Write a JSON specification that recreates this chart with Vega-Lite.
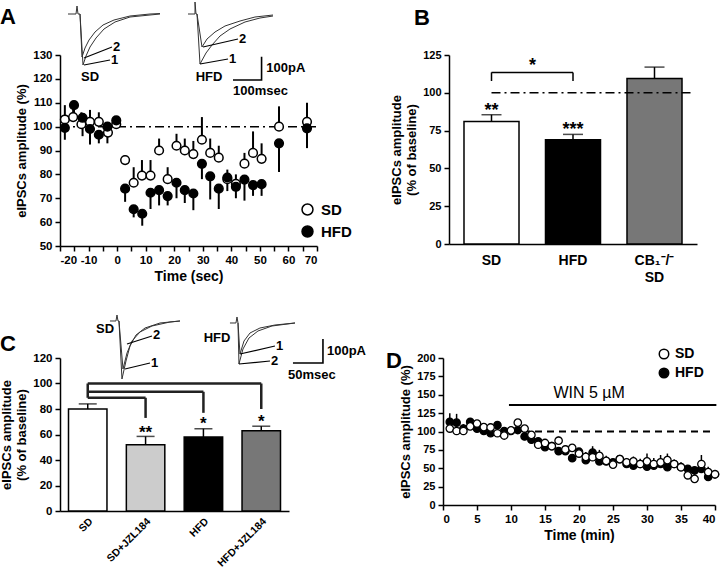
{
"$schema": "https://vega.github.io/schema/vega-lite/v6.json",
"padding": 0,
"config": {
 "font": "Liberation Sans",
 "view": {"stroke": null},
 "mark": {"color": "black"},
 "axis": {"labelFont": "Liberation Sans", "labelFontWeight": "bold", "labelFontSize": 11, "labelColor": "black", "titleFont": "Liberation Sans", "titleFontWeight": "bold", "titleFontSize": 13, "titleColor": "black", "domainColor": "black", "domainWidth": 1.5, "tickColor": "black", "tickWidth": 1.5, "tickSize": 5, "grid": false, "labelPadding": 3, "labelOverlap": false},
 "legend": {"labelFont": "Liberation Sans", "labelFontWeight": "bold", "labelColor": "black"},
 "title": {"font": "Liberation Sans", "fontSize": 22, "fontWeight": "bold", "anchor": "start", "frame": "group", "color": "black"},
 "text": {"font": "Liberation Sans", "fontWeight": "bold", "color": "black"}
},
"spacing": 29,
"align": "none",
"resolve": {"scale": {"fill": "independent"}, "legend": {"fill": "independent"}},
"vconcat": [
{
 "hconcat": [
 {
  "title": {"text": "A", "dx": -60, "offset": -29},
  "width": 257, "height": 191,
  "resolve": {"scale": {"x": "independent", "y": "independent"}},
  "layer": [
   {
    "data": {"values": [
     {"g":"SD","t":-18.3,"v":103,"end":109},{"g":"SD","t":-15.4,"v":104,"end":110},{"g":"SD","t":-12.5,"v":101,"end":106},{"g":"SD","t":-9.5,"v":102,"end":107},{"g":"SD","t":-6.4,"v":102,"end":106},{"g":"SD","t":-3.2,"v":97.5,"end":101},{"g":"SD","t":-0.3,"v":101,"end":104},{"g":"SD","t":2.8,"v":86,"end":88},{"g":"SD","t":5.8,"v":76.5,"end":83},{"g":"SD","t":8.7,"v":79.5,"end":86},{"g":"SD","t":11.7,"v":79.5,"end":86},{"g":"SD","t":14.7,"v":90,"end":95},{"g":"SD","t":17.7,"v":78,"end":83},{"g":"SD","t":20.8,"v":92,"end":97},{"g":"SD","t":23.7,"v":90,"end":95},{"g":"SD","t":26.7,"v":88.5,"end":94},{"g":"SD","t":29.7,"v":94.5,"end":104},{"g":"SD","t":32.6,"v":89,"end":95},{"g":"SD","t":35.6,"v":87,"end":92},{"g":"SD","t":38.6,"v":78,"end":82},{"g":"SD","t":41.6,"v":76,"end":80},{"g":"SD","t":44.6,"v":84.5,"end":89},{"g":"SD","t":47.6,"v":89,"end":98},{"g":"SD","t":50.6,"v":86.5,"end":93},{"g":"SD","t":56.7,"v":100,"end":108.5},{"g":"SD","t":66.5,"v":102,"end":110},
     {"g":"HFD","t":-18.3,"v":99.5,"end":94.5},{"g":"HFD","t":-15.1,"v":109,"end":104},{"g":"HFD","t":-12.1,"v":103.7,"end":96},{"g":"HFD","t":-9.5,"v":99,"end":92.5},{"g":"HFD","t":-6.4,"v":96.6,"end":93},{"g":"HFD","t":-3.4,"v":100,"end":93},{"g":"HFD","t":-0.3,"v":102.6,"end":100},{"g":"HFD","t":2.8,"v":74,"end":68.5},{"g":"HFD","t":5.8,"v":65.4,"end":62},{"g":"HFD","t":8.8,"v":63.5,"end":58.5},{"g":"HFD","t":11.7,"v":72.3,"end":65.5},{"g":"HFD","t":14.7,"v":73.4,"end":67},{"g":"HFD","t":17.7,"v":70.9,"end":67},{"g":"HFD","t":20.8,"v":76.5,"end":70},{"g":"HFD","t":23.7,"v":73.4,"end":68},{"g":"HFD","t":26.7,"v":72,"end":65},{"g":"HFD","t":29.7,"v":84.4,"end":78},{"g":"HFD","t":32.6,"v":79.2,"end":69.5},{"g":"HFD","t":35.6,"v":74,"end":65.5},{"g":"HFD","t":38.6,"v":78.7,"end":73},{"g":"HFD","t":41.6,"v":74.8,"end":70},{"g":"HFD","t":44.6,"v":77.8,"end":69},{"g":"HFD","t":47.6,"v":75.5,"end":71},{"g":"HFD","t":50.6,"v":75.9,"end":71},{"g":"HFD","t":56.7,"v":93,"end":81},{"g":"HFD","t":66.5,"v":99.3,"end":91}
    ]},
    "encoding": {
     "x": {"field": "t", "type": "quantitative", "scale": {"domain": [-20, 70], "nice": false, "zero": false}, "axis": {"values": [-20,-15,-10,-5,0,5,10,15,20,25,30,35,40,45,50,55,60,65,70], "labelExpr": "datum.value % 10 == 0 ? '' + datum.value : ''", "title": "Time (sec)", "titleFontSize": 14, "labelFontSize": 11.5}},
     "y": {"field": "v", "type": "quantitative", "scale": {"domain": [50, 130], "nice": false, "zero": false}, "axis": {"values": [50,60,70,80,90,100,110,120,130], "title": "eIPSCs amplitude (%)", "labelFontSize": 11.5}}
    },
    "layer": [
     {"data": {"values": [{"t": -20, "t2": 70, "v": 100}]}, "mark": {"type": "rule", "strokeWidth": 1.5, "strokeDash": [9, 4, 2, 4]}, "encoding": {"x2": {"field": "t2"}}},
     {"mark": {"type": "rule", "strokeWidth": 2}, "encoding": {"y2": {"field": "end"}}},
     {"mark": {"type": "point", "filled": true, "size": 75, "stroke": "black", "strokeWidth": 1.5, "opacity": 1},
      "encoding": {"fill": {"field": "g", "type": "nominal", "scale": {"domain": ["SD", "HFD"], "range": ["white", "black"]},
        "legend": {"title": null, "orient": "none", "legendX": 240, "legendY": 147, "labelFontSize": 15, "symbolSize": 120, "symbolStrokeColor": "black", "symbolStrokeWidth": 1.5, "symbolType": "circle", "rowPadding": 5, "labelOffset": 6}}}}
    ]
   },
   {
    "encoding": {
     "x": {"field": "t", "type": "quantitative", "scale": {"domain": [0, 899.5], "nice": false, "zero": false}, "axis": null},
     "y": {"field": "i", "type": "quantitative", "scale": {"domain": [-997.6, -176.3], "nice": false, "zero": false}, "axis": null}
    },
    "layer": [
     {"data": {"values": [
      {"id":"SD1","t":28,"i":0},{"id":"SD1","t":56,"i":0},{"id":"SD1","t":59.5,"i":34.4},{"id":"SD1","t":63,"i":0},{"id":"SD1","t":70,"i":0},{"id":"SD1","t":80.5,"i":-219.3},{"id":"SD1","t":91,"i":-180.6},{"id":"SD1","t":105,"i":-141.9},{"id":"SD1","t":126,"i":-103.2},{"id":"SD1","t":154,"i":-64.5},{"id":"SD1","t":192.5,"i":-34.4},{"id":"SD1","t":245,"i":-12.9},{"id":"SD1","t":315,"i":-4.3},{"id":"SD1","t":350,"i":0},
      {"id":"SD2","t":70,"i":0},{"id":"SD2","t":77,"i":-184.9},{"id":"SD2","t":87.5,"i":-146.2},{"id":"SD2","t":101.5,"i":-111.8},{"id":"SD2","t":122.5,"i":-77.4},{"id":"SD2","t":150.5,"i":-47.3},{"id":"SD2","t":189,"i":-25.8},{"id":"SD2","t":245,"i":-8.6},{"id":"SD2","t":315,"i":0},{"id":"SD2","t":350,"i":2},
      {"id":"HFD1","t":448,"i":0},{"id":"HFD1","t":472.5,"i":0},{"id":"HFD1","t":472.5,"i":51.6},{"id":"HFD1","t":476,"i":0},{"id":"HFD1","t":479.5,"i":0},{"id":"HFD1","t":490,"i":-215},{"id":"HFD1","t":511,"i":-167.7},{"id":"HFD1","t":532,"i":-133.3},{"id":"HFD1","t":560,"i":-94.6},{"id":"HFD1","t":595,"i":-64.5},{"id":"HFD1","t":647.5,"i":-34.4},{"id":"HFD1","t":700,"i":-17.2},{"id":"HFD1","t":745.5,"i":-8.6},
      {"id":"HFD2","t":479.5,"i":0},{"id":"HFD2","t":497,"i":-141.9},{"id":"HFD2","t":514.5,"i":-107.5},{"id":"HFD2","t":542.5,"i":-77.4},{"id":"HFD2","t":577.5,"i":-51.6},{"id":"HFD2","t":630,"i":-30.1},{"id":"HFD2","t":682.5,"i":-12.9},{"id":"HFD2","t":745.5,"i":-4.3}
     ]}, "mark": {"type": "line", "strokeWidth": 1, "color": "#333333", "clip": false}, "encoding": {"detail": {"field": "id"}, "order": {"value": null}}},
     {"data": {"values": [
      {"id":"L1","t":84,"i":-189.2},{"id":"L1","t":182,"i":-141.9},
      {"id":"L2","t":84,"i":-219.3},{"id":"L2","t":175,"i":-197.8},
      {"id":"L3","t":500.5,"i":-141.9},{"id":"L3","t":623,"i":-107.5},
      {"id":"L4","t":490,"i":-215},{"id":"L4","t":588,"i":-193.5}
     ]}, "mark": {"type": "line", "strokeWidth": 1.2, "color": "black", "clip": false}, "encoding": {"detail": {"field": "id"}, "order": {"value": null}}},
     {"data": {"values": [
      {"id":"S","t":605.5,"i":-283.8},{"id":"S","t":705.5,"i":-283.8},{"id":"S","t":705.5,"i":-183.8}
     ]}, "mark": {"type": "line", "strokeWidth": 1.6, "color": "black", "clip": false}, "encoding": {"detail": {"field": "id"}, "order": {"value": null}}},
     {"data": {"values": [
      {"s":"2","t":185.5,"i":-141.9},{"s":"1","t":178.5,"i":-197.8},{"s":"2","t":626.5,"i":-107.5},{"s":"1","t":591.5,"i":-193.5},{"s":"100pA","t":722,"i":-232.2},{"s":"100msec","t":605.5,"i":-331.1}
     ]}, "mark": {"type": "text", "align": "left", "baseline": "middle", "fontSize": 13}, "encoding": {"text": {"field": "s"}}},
     {"data": {"values": [
      {"s":"SD","t":105,"i":-270.9},{"s":"HFD","t":521.5,"i":-270.9}
     ]}, "mark": {"type": "text", "align": "center", "baseline": "middle", "fontSize": 13}, "encoding": {"text": {"field": "s"}}}
    ]
   }
  ]
 },
 {
  "title": {"text": "B", "dx": -35, "offset": 19},
  "width": 260, "height": 189,
  "data": {"values": [
   {"c":"SD","v":81,"hi":85.5},
   {"c":"HFD","v":69,"hi":72.5},
   {"c":"CB1","v":109.5,"hi":117}
  ]},
  "encoding": {
   "x": {"field": "c", "type": "nominal", "sort": null, "scale": {"domain": ["SD", "HFD", "CB1"], "paddingInner": 0.325, "paddingOuter": 0.184, "range": [0, 248]},
     "axis": {"title": null, "labelAngle": 0, "ticks": false, "labelFontSize": 14, "labelPadding": 9, "labelLineHeight": 17, "labelExpr": "datum.value == 'CB1' ? ['CB₁⁻/⁻', 'SD'] : datum.value"}},
   "y": {"field": "v", "type": "quantitative", "scale": {"domain": [0, 125], "nice": false}, "axis": {"values": [0,25,50,75,100,125], "title": ["eIPSCs amplitude", "(% of baseline)"]}}
  },
  "layer": [
   {"mark": {"type": "bar", "stroke": "black", "strokeWidth": 1.5},
    "encoding": {"fill": {"field": "c", "type": "nominal", "scale": {"domain": ["SD", "HFD", "CB1"], "range": ["white", "black", "#777777"]}, "legend": null}}},
   {"mark": {"type": "rule", "strokeWidth": 1.5}, "encoding": {"y2": {"field": "hi"}}},
   {"data": {"values": [{"c":"SD","v":85.5},{"c":"HFD","v":72.5},{"c":"CB1","v":117}]}, "mark": {"type": "tick", "thickness": 1.5, "size": 20, "orient": "horizontal"}},
   {"data": {"values": [{"c":"SD","v":88,"s":"**"},{"c":"HFD","v":75.5,"s":"***"}]}, "mark": {"type": "text", "fontSize": 18, "baseline": "middle"}, "encoding": {"text": {"field": "s"}}},
   {"data": {"values": [{"c": "SD", "c2": "CB1", "v": 100}]}, "mark": {"type": "rule", "strokeWidth": 1.5, "strokeDash": [9, 4, 2, 4], "x2Offset": 37}, "encoding": {"x2": {"field": "c2"}}},
   {"data": {"values": [{"c": "SD", "c2": "HFD", "v": 113.5}]}, "mark": {"type": "rule", "strokeWidth": 1.5}, "encoding": {"x2": {"field": "c2"}}},
   {"data": {"values": [{"c": "SD", "v": 113.5, "v2": 107.8}, {"c": "HFD", "v": 113.5, "v2": 107.8}]}, "mark": {"type": "rule", "strokeWidth": 1.5}, "encoding": {"y2": {"field": "v2"}}},
   {"data": {"values": [{"c": "SD", "v": 117.5, "s": "*"}]}, "mark": {"type": "text", "fontSize": 18, "dx": 41, "baseline": "middle"}, "encoding": {"text": {"field": "s"}}}
  ]
 }
 ],
 "spacing": 38,
 "align": "none",
 "resolve": {"scale": {"fill": "independent"}, "legend": {"fill": "independent"}}
},
{
 "hconcat": [
 {
  "title": {"text": "C", "dx": -60, "offset": -43},
  "width": 229, "height": 153,
  "resolve": {"scale": {"x": "independent", "y": "independent"}},
  "layer": [
   {
    "data": {"values": [
     {"c":"SD","v":80,"hi":84},
     {"c":"SD+JZL184","v":52,"hi":58.5},
     {"c":"HFD","v":58,"hi":64.5},
     {"c":"HFD+JZL184","v":63,"hi":66.5}
    ]},
    "encoding": {
     "x": {"field": "c", "type": "nominal", "sort": null, "scale": {"domain": ["SD", "SD+JZL184", "HFD", "HFD+JZL184"], "paddingInner": 0.335, "paddingOuter": 0.147},
      "axis": {"title": null, "labelAngle": -45, "ticks": false, "labelFontSize": 10.5, "labelPadding": 5}},
     "y": {"field": "v", "type": "quantitative", "scale": {"domain": [0, 120], "nice": false}, "axis": {"values": [0,20,40,60,80,100,120], "title": ["eIPSCs amplitude", "(% of baseline)"], "labelFontSize": 11.5}}
    },
    "layer": [
     {"mark": {"type": "bar", "stroke": "black", "strokeWidth": 1.5},
      "encoding": {"fill": {"field": "c", "type": "nominal", "scale": {"domain": ["SD", "SD+JZL184", "HFD", "HFD+JZL184"], "range": ["white", "#cccccc", "black", "#777777"]}, "legend": null}}},
     {"mark": {"type": "rule", "strokeWidth": 1.5}, "encoding": {"y2": {"field": "hi"}}},
     {"data": {"values": [{"c":"SD","v":84},{"c":"SD+JZL184","v":58.5},{"c":"HFD","v":64.5},{"c":"HFD+JZL184","v":66.5}]}, "mark": {"type": "tick", "thickness": 1.5, "size": 18, "orient": "horizontal"}},
     {"data": {"values": [{"c":"SD+JZL184","v":61.5,"s":"**"},{"c":"HFD","v":68.5,"s":"*"},{"c":"HFD+JZL184","v":70,"s":"*"}]}, "mark": {"type": "text", "fontSize": 17, "baseline": "middle"}, "encoding": {"text": {"field": "s"}}},
     {"data": {"values": [{"c": "SD", "c2": "SD+JZL184", "v": 88.8}, {"c": "SD", "c2": "HFD", "v": 93.5}, {"c": "SD", "c2": "HFD+JZL184", "v": 100}]}, "mark": {"type": "rule", "strokeWidth": 2.5, "color": "#222222"}, "encoding": {"x2": {"field": "c2"}}},
     {"data": {"values": [{"c": "SD", "v": 100, "v2": 88.8}, {"c": "SD+JZL184", "v": 88.8, "v2": 73}, {"c": "HFD", "v": 93.5, "v2": 77}, {"c": "HFD+JZL184", "v": 100, "v2": 80}]}, "mark": {"type": "rule", "strokeWidth": 2.5, "color": "#222222"}, "encoding": {"y2": {"field": "v2"}}}
    ]
   },
   {
    "encoding": {
     "x": {"field": "t", "type": "quantitative", "scale": {"domain": [0, 381.7], "nice": false, "zero": false}, "axis": null},
     "y": {"field": "i", "type": "quantitative", "scale": {"domain": [-792.3, -154.3], "nice": false, "zero": false}, "axis": null}
    },
    "layer": [
     {"data": {"values": [
      {"id":"SD1","t":83.3,"i":0},{"id":"SD1","t":93.3,"i":0},{"id":"SD1","t":95,"i":25},{"id":"SD1","t":96.7,"i":0},{"id":"SD1","t":98.3,"i":0},{"id":"SD1","t":103.3,"i":-241.9},{"id":"SD1","t":110,"i":-166.8},{"id":"SD1","t":116.7,"i":-104.3},{"id":"SD1","t":126.7,"i":-58.4},{"id":"SD1","t":141.7,"i":-29.2},{"id":"SD1","t":166.7,"i":-8.3},{"id":"SD1","t":200,"i":0},
      {"id":"SD2","t":98.3,"i":0},{"id":"SD2","t":105,"i":-200.2},{"id":"SD2","t":111.7,"i":-133.4},{"id":"SD2","t":120,"i":-83.4},{"id":"SD2","t":133.3,"i":-45.9},{"id":"SD2","t":153.3,"i":-20.9},{"id":"SD2","t":183.3,"i":-4.2},{"id":"SD2","t":200,"i":0},
      {"id":"HFD1","t":283.3,"i":-8.3},{"id":"HFD1","t":293.3,"i":-8.3},{"id":"HFD1","t":295,"i":16.7},{"id":"HFD1","t":296.7,"i":-8.3},{"id":"HFD1","t":300,"i":-137.6},{"id":"HFD1","t":306.7,"i":-83.4},{"id":"HFD1","t":316.7,"i":-50},{"id":"HFD1","t":333.3,"i":-29.2},{"id":"HFD1","t":358.3,"i":-16.7},{"id":"HFD1","t":391.7,"i":-8.3},
      {"id":"HFD2","t":296.7,"i":-8.3},{"id":"HFD2","t":298.3,"i":-179.3},{"id":"HFD2","t":305,"i":-116.8},{"id":"HFD2","t":315,"i":-70.9},{"id":"HFD2","t":330,"i":-41.7},{"id":"HFD2","t":353.3,"i":-20.9},{"id":"HFD2","t":391.7,"i":-8.3}
     ]}, "mark": {"type": "line", "strokeWidth": 1, "color": "#333333", "clip": false}, "encoding": {"detail": {"field": "id"}, "order": {"value": null}}},
     {"data": {"values": [
      {"id":"L1","t":111.7,"i":-95.9},{"id":"L1","t":153.3,"i":-62.6},
      {"id":"L2","t":108.3,"i":-200.2},{"id":"L2","t":150,"i":-175.1},
      {"id":"L3","t":300,"i":-137.6},{"id":"L3","t":358.3,"i":-104.3},
      {"id":"L4","t":298.3,"i":-179.3},{"id":"L4","t":350,"i":-166.8}
     ]}, "mark": {"type": "line", "strokeWidth": 1.2, "color": "black", "clip": false}, "encoding": {"detail": {"field": "id"}, "order": {"value": null}}},
     {"data": {"values": [
      {"id":"S","t":388.3,"i":-175.1},{"id":"S","t":438.3,"i":-175.1},{"id":"S","t":438.3,"i":-75.1}
     ]}, "mark": {"type": "line", "strokeWidth": 1.6, "color": "black", "clip": false}, "encoding": {"detail": {"field": "id"}, "order": {"value": null}}},
     {"data": {"values": [
      {"s":"2","t":155,"i":-58.4},{"s":"1","t":151.7,"i":-175.1},{"s":"1","t":360,"i":-104.3},{"s":"2","t":351.7,"i":-166.8},{"s":"100pA","t":445,"i":-125.1},{"s":"50msec","t":380,"i":-225.2}
     ]}, "mark": {"type": "text", "align": "left", "baseline": "middle", "fontSize": 13}, "encoding": {"text": {"field": "s"}}},
     {"data": {"values": [
      {"s":"SD","t":75,"i":-33.4},{"s":"HFD","t":261.7,"i":-70.9}
     ]}, "mark": {"type": "text", "align": "center", "baseline": "middle", "fontSize": 13}, "encoding": {"text": {"field": "s"}}}
    ]
   }
  ]
 },
 {
  "title": {"text": "D", "dx": -57, "offset": -26},
  "width": 272, "height": 147,
  "data": {"values": [
   {"g":"HFD","t":1,"v":113,"end":125},{"g":"HFD","t":2,"v":112,"end":124},{"g":"HFD","t":3,"v":104,"end":110},{"g":"HFD","t":4,"v":113,"end":117},{"g":"HFD","t":5,"v":104,"end":108},{"g":"HFD","t":6,"v":100.7,"end":104},{"g":"HFD","t":7,"v":97.6,"end":101},{"g":"HFD","t":8,"v":108.6,"end":112},{"g":"HFD","t":9,"v":100.7,"end":104},{"g":"HFD","t":10,"v":100.7,"end":104},{"g":"HFD","t":11,"v":102,"end":106},{"g":"HFD","t":12,"v":93.2,"end":97},{"g":"HFD","t":13,"v":88.8,"end":93},{"g":"HFD","t":14,"v":86.6,"end":91},{"g":"HFD","t":15,"v":78.7,"end":83},{"g":"HFD","t":16,"v":80,"end":84},{"g":"HFD","t":17,"v":73.4,"end":78},{"g":"HFD","t":18,"v":73.4,"end":78},{"g":"HFD","t":19,"v":63.7,"end":68},{"g":"HFD","t":20,"v":72.5,"end":77},{"g":"HFD","t":21,"v":61,"end":66},{"g":"HFD","t":22,"v":71.2,"end":76},{"g":"HFD","t":23,"v":59.3,"end":64},{"g":"HFD","t":24,"v":59.3,"end":64},{"g":"HFD","t":25,"v":58,"end":62},{"g":"HFD","t":26,"v":62.4,"end":67},{"g":"HFD","t":27,"v":55.8,"end":60},{"g":"HFD","t":28,"v":53.6,"end":58},{"g":"HFD","t":29,"v":55.8,"end":60},{"g":"HFD","t":30,"v":52.3,"end":57},{"g":"HFD","t":31,"v":53.6,"end":58},{"g":"HFD","t":32,"v":55.8,"end":60},{"g":"HFD","t":33,"v":51.4,"end":56},{"g":"HFD","t":34,"v":55.8,"end":60},{"g":"HFD","t":35,"v":51.4,"end":56},{"g":"HFD","t":36,"v":49.2,"end":54},{"g":"HFD","t":37,"v":47,"end":52},{"g":"HFD","t":38,"v":49.2,"end":54},{"g":"HFD","t":39,"v":38.2,"end":43},{"g":"HFD","t":40,"v":41.8,"end":46},
   {"g":"SD","t":1,"v":104,"end":110},{"g":"SD","t":2,"v":100.7,"end":106},{"g":"SD","t":3,"v":100.7,"end":104},{"g":"SD","t":4,"v":107,"end":111},{"g":"SD","t":5,"v":110.8,"end":114},{"g":"SD","t":6,"v":106,"end":110},{"g":"SD","t":7,"v":105.5,"end":109},{"g":"SD","t":8,"v":97.6,"end":101},{"g":"SD","t":9,"v":94.5,"end":98},{"g":"SD","t":10,"v":101.5,"end":105},{"g":"SD","t":11,"v":112,"end":116},{"g":"SD","t":12,"v":104,"end":108},{"g":"SD","t":13,"v":95.4,"end":100},{"g":"SD","t":14,"v":82,"end":87},{"g":"SD","t":15,"v":84.4,"end":89},{"g":"SD","t":16,"v":80,"end":85},{"g":"SD","t":17,"v":87.5,"end":93},{"g":"SD","t":18,"v":75.6,"end":81},{"g":"SD","t":19,"v":77.8,"end":83},{"g":"SD","t":20,"v":70,"end":76},{"g":"SD","t":21,"v":65.5,"end":72},{"g":"SD","t":22,"v":65,"end":80},{"g":"SD","t":23,"v":66.8,"end":75},{"g":"SD","t":24,"v":60,"end":67},{"g":"SD","t":25,"v":55,"end":62},{"g":"SD","t":26,"v":62.4,"end":68},{"g":"SD","t":27,"v":58,"end":64},{"g":"SD","t":28,"v":59.3,"end":66},{"g":"SD","t":29,"v":55.8,"end":63},{"g":"SD","t":30,"v":59.3,"end":70},{"g":"SD","t":31,"v":55.8,"end":64},{"g":"SD","t":32,"v":58,"end":68},{"g":"SD","t":33,"v":61,"end":70},{"g":"SD","t":34,"v":55.8,"end":62},{"g":"SD","t":35,"v":51.4,"end":58},{"g":"SD","t":36,"v":40.4,"end":48},{"g":"SD","t":37,"v":35.6,"end":42},{"g":"SD","t":38,"v":55.8,"end":68},{"g":"SD","t":39,"v":44.8,"end":52},{"g":"SD","t":40,"v":41.8,"end":48}
  ]},
  "encoding": {
   "x": {"field": "t", "type": "quantitative", "scale": {"domain": [0, 40], "nice": false}, "axis": {"values": [0,5,10,15,20,25,30,35,40], "title": "Time (min)", "titleFontSize": 14, "labelFontSize": 11.5}},
   "y": {"field": "v", "type": "quantitative", "scale": {"domain": [0, 200], "nice": false}, "axis": {"values": [0,25,50,75,100,125,150,175,200], "title": "eIPSCs amplitude (%)", "labelFontSize": 11}}
  },
  "layer": [
   {"data": {"values": [{"t": 10, "t2": 39.5, "v": 100}]}, "mark": {"type": "rule", "strokeWidth": 2, "strokeDash": [7, 5]}, "encoding": {"x2": {"field": "t2"}}},
   {"data": {"values": [{"t": 9.7, "t2": 40.2, "v": 136}]}, "mark": {"type": "rule", "strokeWidth": 2, "clip": false}, "encoding": {"x2": {"field": "t2"}}},
   {"data": {"values": [{"t": 21.5, "v": 152, "s": "WIN 5 µM"}]}, "mark": {"type": "text", "fontSize": 16, "fontWeight": "normal", "baseline": "middle"}, "encoding": {"text": {"field": "s"}}},
   {"mark": {"type": "rule", "strokeWidth": 1.5}, "encoding": {"y2": {"field": "end"}}},
   {"mark": {"type": "point", "filled": true, "size": 55, "stroke": "black", "strokeWidth": 1.3, "opacity": 1},
    "encoding": {"fill": {"field": "g", "type": "nominal", "scale": {"domain": ["SD", "HFD"], "range": ["white", "black"]},
      "legend": {"title": null, "orient": "none", "legendX": 214, "legendY": -11, "labelFontSize": 14, "symbolSize": 90, "symbolStrokeColor": "black", "symbolStrokeWidth": 1.5, "symbolType": "circle", "rowPadding": 3, "labelOffset": 4}}}}
  ]
 }
 ],
 "spacing": 20,
 "align": "none",
 "resolve": {"scale": {"fill": "independent"}, "legend": {"fill": "independent"}}
}
]
}
